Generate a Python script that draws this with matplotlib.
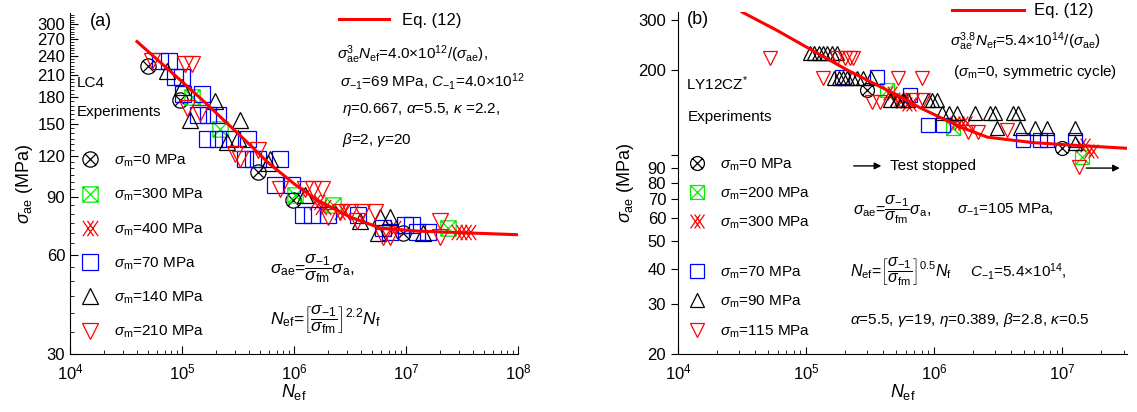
import matplotlib
matplotlib.use('Agg')
import matplotlib.pyplot as plt
from matplotlib.path import Path
from matplotlib.lines import Line2D
from matplotlib.ticker import FixedLocator, NullLocator

plt.rcParams['font.family'] = ['Liberation Sans', 'DejaVu Sans']
plt.rcParams['mathtext.fontset'] = 'custom'
plt.rcParams['mathtext.rm'] = 'Liberation Sans'
plt.rcParams['mathtext.it'] = 'Liberation Sans:italic'
plt.rcParams['mathtext.bf'] = 'Liberation Sans:bold'

# ---- panel (a): LC4 ----
a_fit_N = [3.96e4, 1.0e5, 1.6e5, 3.88e5, 5.9e5, 1.02e6, 1.6e6, 3.2e6, 5.9e6, 1.26e7, 1e8]
a_fit_s = [266, 201, 174, 131, 114, 98, 88, 78, 72.3, 70.8, 69.0]

a0_N = [5.0e4, 9.6e4, 4.8e5, 9.7e5, 9.4e6]
a0_s = [224, 177, 107, 88, 70]
a300_N = [1.23e5, 2.18e5, 1.02e6, 2.23e6, 2.37e7]
a300_s = [180, 144, 91, 85, 72.5]
a400_N = [1.6e6, 1.8e6, 2.7e6, 7.6e6, 3.0e7, 3.6e7]
a400_s = [87, 84, 81, 72.5, 70.5, 70.5]
a70_N = [6.4e4, 7.7e4, 8.7e4, 1.0e5, 1.02e5, 1.51e5, 1.39e5, 1.71e5, 2.1e5, 1.67e5,
         2.1e5, 2.68e5, 3.88e5, 3.65e5, 4.3e5, 4.77e5, 7.5e5, 6.76e5, 9.6e5, 1.2e6,
         1.45e6, 2.0e6, 3.72e6, 6.2e6, 7.2e6, 9.8e6, 1.13e7, 1.25e7, 1.57e7]
a70_s = [232, 232, 208, 208, 184, 185, 159, 159, 159, 135,
         135, 135, 135, 117, 117, 117, 117, 98, 98, 79,
         79, 79, 79, 72.5, 70.4, 74, 74, 70.4, 70.4]
a140_N = [7.3e4, 1.0e5, 1.97e5, 1.18e5, 3.3e5, 2.5e5, 3.15e5, 6.1e5, 5.86e5, 1.25e6,
          3.9e6, 5.9e6, 7.2e6, 5.6e6, 1.42e7]
a140_s = [216, 194, 175, 154, 154, 132, 136, 117, 114, 91,
          76, 78, 78, 70, 70]
a210_N = [5.4e4, 1.06e5, 1.23e5, 1.1e5, 1.45e5, 2.97e5, 3.3e5, 4.77e5, 7.5e5, 1.25e6,
          1.48e6, 1.78e6, 2.0e6, 2.58e6, 3.16e6, 4.05e6, 5.3e6, 3.65e6, 6.2e6, 7.2e6,
          2.0e7, 2.0e7]
a210_s = [232, 227, 227, 167, 162, 121, 117, 125, 95, 95,
          95, 95, 78, 81, 81, 81, 81, 76, 68, 68,
          76, 68]
a_labels = ['0', '300', '400', '70', '140', '210']

# ---- panel (b): LY12CZ ----
b_fit_N = [3.16e4, 5.9e4, 2.09e5, 5.42e5, 7.8e5, 1.6e6, 2.6e6, 5.9e6, 1.1e7, 3.2e7]
b_fit_s = [320, 276, 200, 161, 147, 126, 116, 111, 109, 106]

b0_N = [3.0e5, 1.0e7]
b0_s = [170, 106]
b200_N = [4.3e5, 1.4e6, 1.43e7]
b200_s = [170, 125, 99]
b300_N = [4.5e5, 5.1e5, 5.7e5, 6.3e5, 1.5e6, 1.75e6, 1.46e7, 1.66e7]
b300_s = [166, 158, 155, 152, 130, 130, 109, 104]
b70_N = [1.9e5, 3.6e5, 6.5e5, 8.9e5, 1.16e6, 4.95e6, 6.7e6, 7.6e6, 1.26e7]
b70_s = [189, 189, 163, 128, 128, 113, 113, 113, 113]
b90_N = [1.07e5, 1.15e5, 1.25e5, 1.35e5, 1.45e5, 1.6e5, 1.75e5,
         1.65e5, 1.8e5, 1.95e5, 2.1e5, 2.3e5, 2.5e5, 2.8e5, 3.2e5,
         4.5e5, 5.1e5, 5.7e5, 6.2e5, 8.9e5, 9.6e5, 1.05e6,
         1.15e6, 1.3e6, 1.5e6, 2.09e6, 2.74e6, 3.0e6, 4.14e6, 4.53e6,
         3.1e6, 4.7e6, 6.15e6, 7.6e6, 1.26e7, 1.26e7]
b90_s = [230, 230, 230, 230, 230, 230, 230,
         187, 187, 187, 187, 187, 187, 187, 187,
         157, 157, 157, 157, 157, 157, 157,
         141, 141, 141, 141, 141, 141, 141, 141,
         125, 125, 125, 125, 125, 111]
b115_N = [5.2e4, 1.36e5, 1.75e5, 2.0e5, 2.2e5, 2.33e5, 5.2e5, 8.05e5, 3.28e5, 3.8e5,
          6.7e5, 8.2e5, 1.85e6, 2.2e6, 3.7e6, 1.35e7]
b115_s = [220, 187, 220, 220, 220, 220, 187, 187, 154, 154,
          157, 157, 121, 121, 123, 91]
b_labels1 = ['0', '200', '300']
b_labels2 = ['70', '90', '115']

# custom markers
d = 0.7071
circ_x = Path.make_compound_path(Path.unit_circle(), Path([(-d, -d), (d, d)]), Path([(-d, d), (d, -d)]))
sq_x = Path.make_compound_path(Path([(-1, -1), (1, -1), (1, 1), (-1, 1), (-1, -1)]),
                               Path([(-1, -1), (1, 1)]), Path([(-1, 1), (1, -1)]))
xx = Path.make_compound_path(Path([(-1, 1), (0.4, -1)]), Path([(-1, -1), (0.4, 1)]),
                             Path([(-0.4, 1), (1, -1)]), Path([(-0.4, -1), (1, 1)]))

styles = [(circ_x, 'black'), (sq_x, '#00ee00'), (xx, 'red'),
          ('s', 'blue'), ('^', 'black'), ('v', 'red')]

fig = plt.figure(figsize=(11.37, 4.12), dpi=100)
ax1 = fig.add_axes([0.0616, 0.1408, 0.394, 0.828])
ax2 = fig.add_axes([0.5963, 0.1408, 0.395, 0.830])


def scatter(ax, N, s, st, ms):
    ax.plot(N, s, ls='none', marker=st[0], ms=ms, mfc='none', mec=st[1], mew=0.9)


def handles(sts, ms):
    return [Line2D([], [], ls='none', marker=m, ms=ms, mfc='none', mec=c, mew=0.9) for m, c in sts]


# ---------- panel (a) ----------
ax = ax1
for (N, s), st in zip([(a0_N, a0_s), (a300_N, a300_s), (a400_N, a400_s),
                       (a70_N, a70_s), (a140_N, a140_s), (a210_N, a210_s)], styles):
    scatter(ax, N, s, st, 11)
fit_a, = ax.plot(a_fit_N, a_fit_s, color='red', lw=2.2, zorder=5)
ax.set_xscale('log')
ax.set_yscale('log')
ax.set_xlim(1e4, 1e8)
ax.set_ylim(30, 325)
ax.yaxis.set_major_locator(FixedLocator(list(range(30, 301, 30))))
ax.set_yticklabels([str(v) for v in range(30, 301, 30)])
ax.yaxis.set_minor_locator(FixedLocator([v for v in range(35, 321, 5) if v % 30]))
ax.yaxis.set_minor_formatter(plt.NullFormatter())
ax.tick_params(which='both', direction='in', labelsize=12)
ax.tick_params(which='major', length=6)
ax.tick_params(which='minor', length=3)
ax.tick_params(axis='x', pad=6)
for sp in ['top', 'right']:
    ax.spines[sp].set_visible(False)
ax.set_xlabel(r'$N_{\rm ef}$', fontsize=13, labelpad=0)
ax.set_ylabel(r'$\sigma_{\rm ae}$ (MPa)', fontsize=13, labelpad=2)

ax.text(0.045, 0.974, '(a)', transform=ax.transAxes, fontsize=13, va='center')
ax.text(0.016, 0.795, 'LC4', transform=ax.transAxes, fontsize=11, va='center')
ax.text(0.016, 0.71, 'Experiments', transform=ax.transAxes, fontsize=11, va='center')
leg = ax.legend(handles(styles, 11), [r'$\sigma_{\rm m}$=%s MPa' % v for v in a_labels],
                loc='upper left', bbox_to_anchor=(0.019, 0.59), frameon=False, fontsize=11,
                handlelength=1.5, handletextpad=0.85, labelspacing=1.17, borderpad=0, borderaxespad=0)
ax.add_artist(leg)
ax.legend([fit_a], ['Eq. (12)'], loc='upper left', bbox_to_anchor=(0.6, 1.0), frameon=False,
          fontsize=12, handlelength=3.0, handletextpad=0.8, borderpad=0, borderaxespad=0)
tx = dict(transform=ax.transAxes, fontsize=11, va='center')
fx = dict(transform=ax.transAxes, fontsize=12.5, va='center')
ax.text(0.596, 0.877, r'$\sigma^{3}_{\rm ae}N_{\rm ef}$=4.0$\times$10$^{12}$/($\sigma_{\rm ae}$),', **tx)
ax.text(0.603, 0.798, r'$\sigma_{-1}$=69 MPa, $C_{-1}$=4.0$\times$10$^{12}$', **tx)
ax.text(0.607, 0.716, r'$\eta$=0.667, $\alpha$=5.5, $\kappa$ =2.2,', **tx)
ax.text(0.607, 0.628, r'$\beta$=2, $\gamma$=20', **tx)
ax.text(0.446, 0.25, r'$\sigma_{\rm ae}$=$\dfrac{\sigma_{-1}}{\sigma_{\rm fm}}\sigma_{\rm a}$,', **fx)
ax.text(0.446, 0.10, r'$N_{\rm ef}$=$\left[\dfrac{\sigma_{-1}}{\sigma_{\rm fm}}\right]^{2.2}N_{\rm f}$', **fx)

# ---------- panel (b) ----------
ax = ax2
for (N, s), st in zip([(b0_N, b0_s), (b200_N, b200_s), (b300_N, b300_s),
                       (b70_N, b70_s), (b90_N, b90_s), (b115_N, b115_s)], styles):
    scatter(ax, N, s, st, 10)
fit_b, = ax.plot(b_fit_N, b_fit_s, color='red', lw=2.2, zorder=5)
ax.set_xscale('log')
ax.set_yscale('log')
ax.set_xlim(1e4, 3.2e7)
ax.set_ylim(20, 320)
yt = [20, 30, 40, 50, 60, 70, 80, 90, 100, 200, 300]
ax.yaxis.set_major_locator(FixedLocator(yt))
ax.set_yticklabels(['' if v == 100 else str(v) for v in yt])
ax.yaxis.set_minor_locator(NullLocator())
ax.tick_params(axis='x', which='both', direction='in', labelsize=12, pad=6)
ax.tick_params(axis='y', which='both', direction='out', labelsize=12)
ax.tick_params(which='major', length=5)
ax.tick_params(which='minor', length=3)
for sp in ['top', 'right']:
    ax.spines[sp].set_visible(False)
ax.set_xlabel(r'$N_{\rm ef}$', fontsize=13, labelpad=0)
ax.set_ylabel(r'$\sigma_{\rm ae}$ (MPa)', fontsize=13, labelpad=2)

ax.text(0.02, 0.977, '(b)', transform=ax.transAxes, fontsize=13, va='center')
ax.text(0.018, 0.79, r'LY12CZ$^{*}$', transform=ax.transAxes, fontsize=11, va='center')
ax.text(0.022, 0.693, 'Experiments', transform=ax.transAxes, fontsize=11, va='center')
leg1 = ax.legend(handles(styles[:3], 10), [r'$\sigma_{\rm m}$=%s MPa' % v for v in b_labels1],
                 loc='upper left', bbox_to_anchor=(0.022, 0.578), frameon=False, fontsize=11,
                 handlelength=1.2, handletextpad=0.9, labelspacing=0.82, borderpad=0, borderaxespad=0)
ax.add_artist(leg1)
leg2 = ax.legend(handles(styles[3:], 10), [r'$\sigma_{\rm m}$=%s MPa' % v for v in b_labels2],
                 loc='upper left', bbox_to_anchor=(0.022, 0.262), frameon=False, fontsize=11,
                 handlelength=1.2, handletextpad=0.9, labelspacing=0.85, borderpad=0, borderaxespad=0)
ax.add_artist(leg2)
ax.legend([fit_b], ['Eq. (12)'], loc='upper left', bbox_to_anchor=(0.61, 1.025), frameon=False,
          fontsize=12, handlelength=4.3, handletextpad=0.6, borderpad=0, borderaxespad=0)
tx = dict(transform=ax.transAxes, fontsize=11, va='center')
fx = dict(transform=ax.transAxes, fontsize=11.5, va='center')
ax.text(0.606, 0.912, r'$\sigma^{3.8}_{\rm ae}N_{\rm ef}$=5.4$\times$10$^{14}$/($\sigma_{\rm ae}$)', **tx)
ax.text(0.612, 0.825, r'($\sigma_{\rm m}$=0, symmetric cycle)', **tx)
ax.annotate('', xy=(0.459, 0.55), xytext=(0.385, 0.55), xycoords='axes fraction',
            arrowprops=dict(arrowstyle='-|>', color='k', lw=1, mutation_scale=10))
ax.text(0.472, 0.55, 'Test stopped', **tx)
ax.annotate('', xy=(2.95e7, 90.3), xytext=(1.46e7, 90.3),
            arrowprops=dict(arrowstyle='-|>', color='k', lw=1, mutation_scale=10))
ax.text(0.39, 0.421, r'$\sigma_{\rm ae}$=$\dfrac{\sigma_{-1}}{\sigma_{\rm fm}}\sigma_{\rm a}$,', **fx)
ax.text(0.621, 0.421, r'$\sigma_{-1}$=105 MPa,', **tx)
ax.text(0.383, 0.24, r'$N_{\rm ef}$=$\left[\dfrac{\sigma_{-1}}{\sigma_{\rm fm}}\right]^{0.5}N_{\rm f}$', **fx)
ax.text(0.65, 0.24, r'$C_{-1}$=5.4$\times$10$^{14}$,', **tx)
ax.text(0.383, 0.10, r'$\alpha$=5.5, $\gamma$=19, $\eta$=0.389, $\beta$=2.8, $\kappa$=0.5', **tx)

fig.savefig('out.png', dpi=100)
